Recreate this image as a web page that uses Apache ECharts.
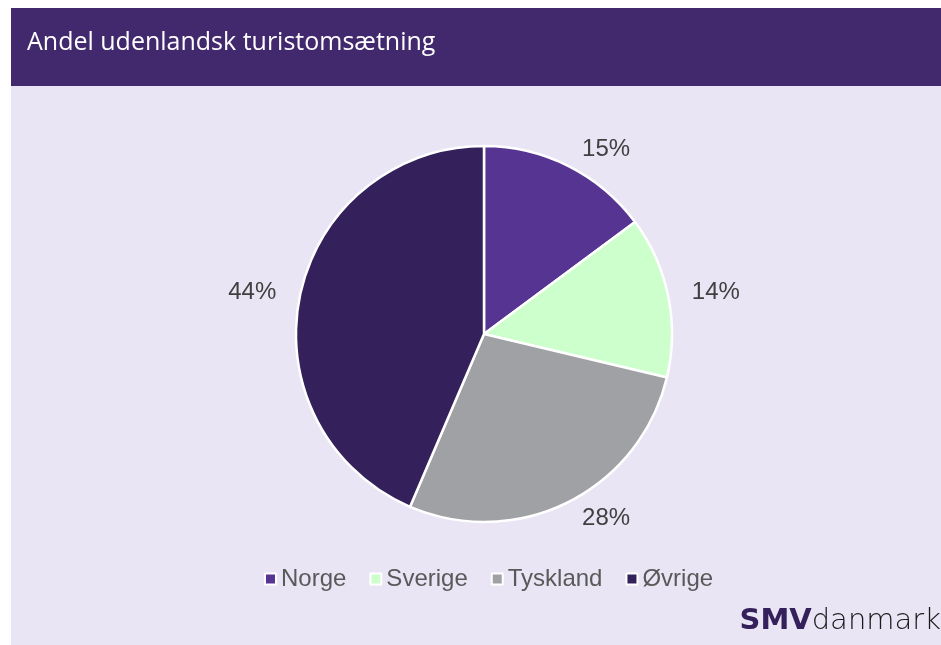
<!DOCTYPE html>
<html>
<head>
<meta charset="utf-8">
<script src="https://cdn.jsdelivr.net/npm/echarts@6/dist/echarts.min.js"></script>
<style>
  html, body { margin: 0; padding: 0; background: #fff; }
  #chart { width: 941px; height: 645px; }
</style>
</head>
<body>
<div id="chart"></div>
<script>
// data
var categories = ['Norge', 'Sverige', 'Tyskland', 'Øvrige'];
var shares = [15, 14, 28, 44];
var colors = ['#563592', '#CCFFCC', '#A0A1A5', '#34205A'];
var titleText = 'Andel udenlandsk turistomsætning';

var myChart = echarts.init(document.getElementById('chart'), null, { renderer: 'canvas' });

var pieData = categories.map(function (name, i) {
  return { name: name, value: shares[i], itemStyle: { color: colors[i] } };
});

var option = {
  animation: false,
  backgroundColor: '#fff',
  graphic: [
    // lavender panel
    { type: 'rect', z: -10, shape: { x: 11, y: 8, width: 930, height: 637 }, style: { fill: '#E9E5F5' } },
    // header band
    { type: 'rect', z: -9, shape: { x: 11, y: 8, width: 930, height: 78 }, style: { fill: '#42296E' } },
    {
      type: 'text', left: 27, top: 30,
      style: { text: titleText, fill: '#fff', font: '25px "Open Sans", Lato, sans-serif' }
    },
    // logo
    {
      type: 'text', right: 0, top: 607,
      style: {
        text: '{a|SMV}{b|danmark}',
        rich: {
          a: { fontFamily: 'DejaVu Sans', fontWeight: 'bold', fontSize: 29, fill: '#34205A' },
          b: { fontFamily: 'DejaVu Sans', fontWeight: 200, fontSize: 29, fill: '#1a1a1a' }
        }
      }
    }
  ],
  legend: {
    data: categories,
    left: 259,
    top: 562,
    icon: 'rect',
    itemWidth: 11,
    itemHeight: 11,
    itemGap: 23,
    itemStyle: { borderColor: '#fff', borderWidth: 2 },
    textStyle: { fontFamily: 'Arial, "Liberation Sans", sans-serif', fontSize: 24, color: '#595959' }
  },
  series: [
    {
      type: 'pie',
      center: [484, 334],
      radius: 188,
      startAngle: 90,
      clockwise: true,
      avoidLabelOverlap: false,
      itemStyle: { borderColor: '#fff', borderWidth: 2.5 },
      label: {
        show: true,
        position: 'outside',
        formatter: '{c}%',
        fontFamily: 'Arial, "Liberation Sans", sans-serif',
        fontSize: 24,
        color: '#404040'
      },
      labelLine: { show: false, length: 19, length2: 0 },
      emphasis: { disabled: true },
      data: pieData
    }
  ]
};

myChart.setOption(option);
</script>
</body>
</html>
